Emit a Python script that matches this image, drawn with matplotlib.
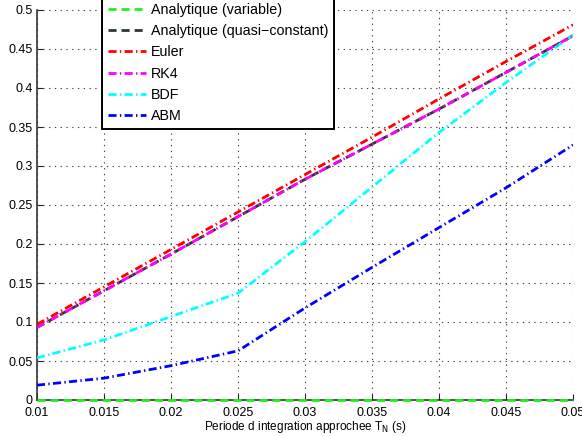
import matplotlib
matplotlib.use("Agg")
import matplotlib.pyplot as plt

plt.rcParams['font.family'] = ['Liberation Sans', 'DejaVu Sans']

T = [0.01, 0.015, 0.02, 0.025, 0.03, 0.035, 0.04, 0.045, 0.05]
analytique_variable = [0, 0, 0, 0, 0, 0, 0, 0, 0]
analytique_quasi = [0.093, 0.140, 0.187, 0.235, 0.283, 0.328, 0.373, 0.420, 0.467]
euler = [0.097, 0.145, 0.193, 0.241, 0.289, 0.337, 0.386, 0.434, 0.481]
rk4 = [0.093, 0.140, 0.187, 0.235, 0.283, 0.328, 0.373, 0.420, 0.467]
bdf = [0.054, 0.077, 0.107, 0.137, 0.203, 0.273, 0.343, 0.407, 0.468]
abm = [0.019, 0.028, 0.044, 0.063, 0.118, 0.170, 0.221, 0.272, 0.327]

labels = ['Analytique (variable)', 'Analytique (quasi\u2212constant)', 'Euler', 'RK4', 'BDF', 'ABM']
xticks = [0.01, 0.015, 0.02, 0.025, 0.03, 0.035, 0.04, 0.045, 0.05]
yticks = [0, 0.05, 0.1, 0.15, 0.2, 0.25, 0.3, 0.35, 0.4, 0.45, 0.5]

fig = plt.figure(figsize=(5.82, 4.37), dpi=100)
ax = fig.add_axes([37/582, 37/437, 536/582, 390/437])

lw = 2.0
dashdot = (0, (2.9, 1.2, 0.5, 1.2))
dashed = (0, (2.9, 1.8))
ax.plot(T, analytique_quasi, color='#2b3a2b', ls=dashed, lw=lw, label=labels[1], zorder=3)
ax.plot(T, rk4, color='magenta', ls=dashdot, lw=lw, label=labels[3], zorder=4)
ax.plot(T, euler, color='red', ls=dashdot, lw=lw, label=labels[2], zorder=3)
ax.plot(T, bdf, color='cyan', ls=dashdot, lw=lw, label=labels[4], zorder=3)
ax.plot(T, abm, color='blue', ls=dashdot, lw=lw, label=labels[5], zorder=3)
ax.plot(T, analytique_variable, color='#22ee22', ls=dashed, lw=lw, label=labels[0], zorder=5, clip_on=False)

ax.set_xlim(0.01, 0.05)
ax.set_ylim(0, 0.5)
ax.set_xticks(xticks)
ax.set_xticklabels(['0.01', '0.015', '0.02', '0.025', '0.03', '0.035', '0.04', '0.045', '0.05'])
ax.set_yticks(yticks)
ax.set_yticklabels(['0', '0.05', '0.1', '0.15', '0.2', '0.25', '0.3', '0.35', '0.4', '0.45', '0.5'])
ax.tick_params(direction='in', length=4, labelsize=9, pad=3, color='#222222')
ax.tick_params(axis='x', pad=4.8)
ax.grid(True, ls=(0, (1.2, 4)), color='#444444', lw=0.8)
ax.spines['top'].set_visible(False)
ax.spines['right'].set_visible(False)
for s in ['left', 'bottom']:
    ax.spines[s].set_linewidth(1.2)
    ax.spines[s].set_color('#333333')

ax.set_xlabel('Periode d integration approchee T$_\\mathrm{N}$ (s)', fontsize=8.5, labelpad=0)

handles, labs = ax.get_legend_handles_labels()
order = [labs.index(l) for l in labels]
leg = ax.legend([handles[i] for i in order], [labs[i] for i in order],
                loc='lower left', bbox_to_anchor=(0.121, 0.695), fontsize=10.3,
                handlelength=2.67, handletextpad=0.32, labelspacing=0.50,
                borderpad=0.42, borderaxespad=0, fancybox=False, framealpha=1,
                edgecolor='black')
leg.get_frame().set_linewidth(1.4)
leg.set_zorder(10)

fig.savefig('out.png', dpi=100)
